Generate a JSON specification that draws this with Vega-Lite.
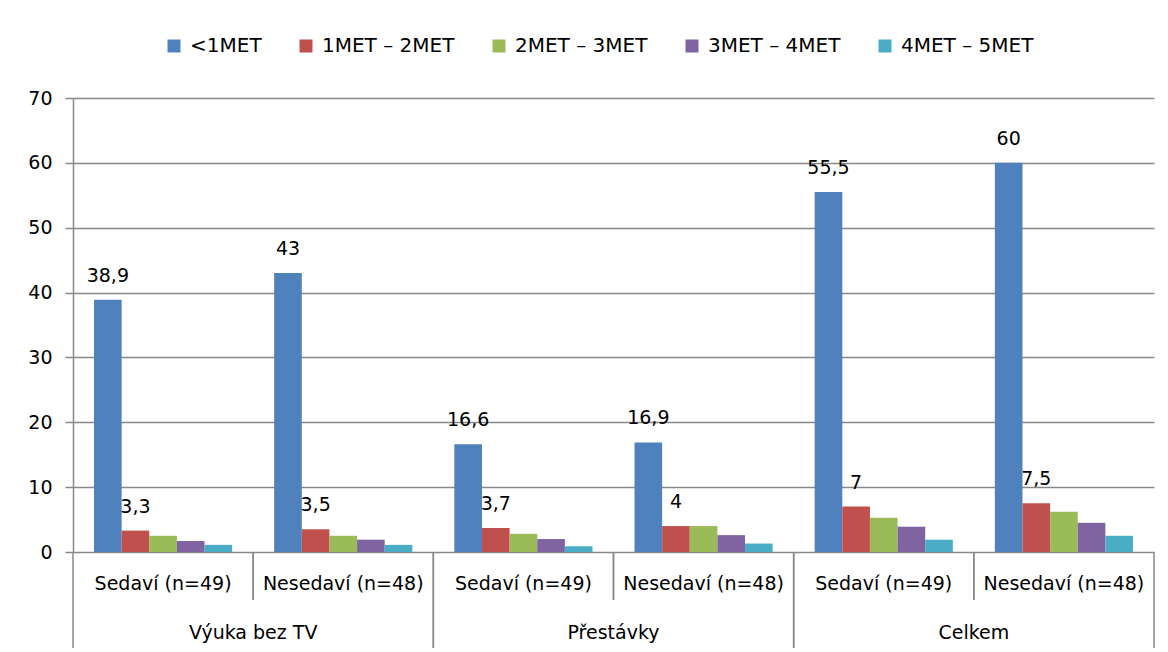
{
  "$schema": "https://vega.github.io/schema/vega-lite/v6.json",
  "background": "white",
  "padding": {"left": 27, "top": 36, "right": 0, "bottom": 0},
  "spacing": 0,
  "bounds": "flush",
  "config": {
    "font": "DejaVu Sans",
    "view": {"stroke": null},
    "locale": {
      "number": {"decimal": ",", "thousands": " ", "grouping": [3], "currency": ["", " Kč"]}
    }
  },
  "datasets": {
    "hodnoty": [
      {"skupina": "Výuka bez TV", "sloupec": "Výuka bez TV: Sedaví (n=49)", "pasmo": "<1MET", "hodnota": 38.9},
      {"skupina": "Výuka bez TV", "sloupec": "Výuka bez TV: Sedaví (n=49)", "pasmo": "1MET – 2MET", "hodnota": 3.3},
      {"skupina": "Výuka bez TV", "sloupec": "Výuka bez TV: Sedaví (n=49)", "pasmo": "2MET – 3MET", "hodnota": 2.5},
      {"skupina": "Výuka bez TV", "sloupec": "Výuka bez TV: Sedaví (n=49)", "pasmo": "3MET – 4MET", "hodnota": 1.7},
      {"skupina": "Výuka bez TV", "sloupec": "Výuka bez TV: Sedaví (n=49)", "pasmo": "4MET – 5MET", "hodnota": 1.1},
      {"skupina": "Výuka bez TV", "sloupec": "Výuka bez TV: Nesedaví (n=48)", "pasmo": "<1MET", "hodnota": 43},
      {"skupina": "Výuka bez TV", "sloupec": "Výuka bez TV: Nesedaví (n=48)", "pasmo": "1MET – 2MET", "hodnota": 3.5},
      {"skupina": "Výuka bez TV", "sloupec": "Výuka bez TV: Nesedaví (n=48)", "pasmo": "2MET – 3MET", "hodnota": 2.5},
      {"skupina": "Výuka bez TV", "sloupec": "Výuka bez TV: Nesedaví (n=48)", "pasmo": "3MET – 4MET", "hodnota": 1.9},
      {"skupina": "Výuka bez TV", "sloupec": "Výuka bez TV: Nesedaví (n=48)", "pasmo": "4MET – 5MET", "hodnota": 1.1},
      {"skupina": "Přestávky", "sloupec": "Přestávky: Sedaví (n=49)", "pasmo": "<1MET", "hodnota": 16.6},
      {"skupina": "Přestávky", "sloupec": "Přestávky: Sedaví (n=49)", "pasmo": "1MET – 2MET", "hodnota": 3.7},
      {"skupina": "Přestávky", "sloupec": "Přestávky: Sedaví (n=49)", "pasmo": "2MET – 3MET", "hodnota": 2.8},
      {"skupina": "Přestávky", "sloupec": "Přestávky: Sedaví (n=49)", "pasmo": "3MET – 4MET", "hodnota": 2.0},
      {"skupina": "Přestávky", "sloupec": "Přestávky: Sedaví (n=49)", "pasmo": "4MET – 5MET", "hodnota": 0.9},
      {"skupina": "Přestávky", "sloupec": "Přestávky: Nesedaví (n=48)", "pasmo": "<1MET", "hodnota": 16.9},
      {"skupina": "Přestávky", "sloupec": "Přestávky: Nesedaví (n=48)", "pasmo": "1MET – 2MET", "hodnota": 4},
      {"skupina": "Přestávky", "sloupec": "Přestávky: Nesedaví (n=48)", "pasmo": "2MET – 3MET", "hodnota": 4.0},
      {"skupina": "Přestávky", "sloupec": "Přestávky: Nesedaví (n=48)", "pasmo": "3MET – 4MET", "hodnota": 2.6},
      {"skupina": "Přestávky", "sloupec": "Přestávky: Nesedaví (n=48)", "pasmo": "4MET – 5MET", "hodnota": 1.3},
      {"skupina": "Celkem", "sloupec": "Celkem: Sedaví (n=49)", "pasmo": "<1MET", "hodnota": 55.5},
      {"skupina": "Celkem", "sloupec": "Celkem: Sedaví (n=49)", "pasmo": "1MET – 2MET", "hodnota": 7},
      {"skupina": "Celkem", "sloupec": "Celkem: Sedaví (n=49)", "pasmo": "2MET – 3MET", "hodnota": 5.3},
      {"skupina": "Celkem", "sloupec": "Celkem: Sedaví (n=49)", "pasmo": "3MET – 4MET", "hodnota": 3.9},
      {"skupina": "Celkem", "sloupec": "Celkem: Sedaví (n=49)", "pasmo": "4MET – 5MET", "hodnota": 1.9},
      {"skupina": "Celkem", "sloupec": "Celkem: Nesedaví (n=48)", "pasmo": "<1MET", "hodnota": 60},
      {"skupina": "Celkem", "sloupec": "Celkem: Nesedaví (n=48)", "pasmo": "1MET – 2MET", "hodnota": 7.5},
      {"skupina": "Celkem", "sloupec": "Celkem: Nesedaví (n=48)", "pasmo": "2MET – 3MET", "hodnota": 6.2},
      {"skupina": "Celkem", "sloupec": "Celkem: Nesedaví (n=48)", "pasmo": "3MET – 4MET", "hodnota": 4.5},
      {"skupina": "Celkem", "sloupec": "Celkem: Nesedaví (n=48)", "pasmo": "4MET – 5MET", "hodnota": 2.5}
    ],
    "kategorie": [
      {"sloupec": "Výuka bez TV: Sedaví (n=49)", "popisek": "Sedaví (n=49)"},
      {"sloupec": "Výuka bez TV: Nesedaví (n=48)", "popisek": "Nesedaví (n=48)"},
      {"sloupec": "Přestávky: Sedaví (n=49)", "popisek": "Sedaví (n=49)"},
      {"sloupec": "Přestávky: Nesedaví (n=48)", "popisek": "Nesedaví (n=48)"},
      {"sloupec": "Celkem: Sedaví (n=49)", "popisek": "Sedaví (n=49)"},
      {"sloupec": "Celkem: Nesedaví (n=48)", "popisek": "Nesedaví (n=48)"}
    ],
    "skupiny": [
      {"skupina": "Výuka bez TV"},
      {"skupina": "Přestávky"},
      {"skupina": "Celkem"}
    ]
  },
  "resolve": {"scale": {"x": "independent"}},
  "vconcat": [
    {
      "width": 1081,
      "height": 454,
      "data": {"name": "hodnoty"},
      "encoding": {
        "x": {
          "field": "sloupec",
          "type": "nominal",
          "sort": null,
          "scale": {"paddingInner": 0, "paddingOuter": 0},
          "axis": null
        },
        "xOffset": {
          "field": "pasmo",
          "type": "nominal",
          "scale": {
            "domain": ["<1MET", "1MET – 2MET", "2MET – 3MET", "3MET – 4MET", "4MET – 5MET"],
            "paddingInner": 0,
            "paddingOuter": 0.76
          }
        },
        "y": {
          "field": "hodnota",
          "type": "quantitative",
          "scale": {"domain": [0, 70], "nice": false},
          "axis": {
            "title": null,
            "values": [0, 10, 20, 30, 40, 50, 60, 70],
            "grid": true,
            "gridColor": "#888888",
            "gridWidth": 1.5,
            "domainColor": "#888888",
            "domainWidth": 1.5,
            "tickColor": "#888888",
            "tickWidth": 1.5,
            "tickSize": 8,
            "labelFontSize": 19,
            "labelColor": "#000000",
            "labelPadding": 13
          }
        }
      },
      "layer": [
        {
          "mark": {"type": "bar"},
          "encoding": {
            "color": {
              "field": "pasmo",
              "type": "nominal",
              "scale": {
                "domain": ["<1MET", "1MET – 2MET", "2MET – 3MET", "3MET – 4MET", "4MET – 5MET"],
                "range": ["#4F81BD", "#C0504D", "#9BBB59", "#8064A2", "#4BACC6"]
              },
              "legend": {
                "title": null,
                "orient": "none",
                "legendX": 91,
                "legendY": -62,
                "direction": "horizontal",
                "symbolType": "square",
                "symbolSize": 169,
                "symbolStrokeWidth": 0,
                "symbolOpacity": 1,
                "labelFontSize": 20,
                "labelColor": "#000000",
                "labelOffset": 6,
                "columnPadding": 34,
                "labelLimit": 300
              }
            }
          }
        },
        {
          "transform": [{"filter": {"field": "pasmo", "oneOf": ["<1MET", "1MET – 2MET"]}}],
          "mark": {"type": "text", "baseline": "alphabetic", "dy": -18, "fontSize": 19, "color": "#000000"},
          "encoding": {
            "text": {"field": "hodnota", "type": "quantitative", "format": ".1~f"}
          }
        }
      ]
    },
    {
      "width": 1081,
      "height": 48,
      "data": {"name": "kategorie"},
      "layer": [
        {
          "mark": {"type": "rule", "color": "#888888", "strokeWidth": 1.5},
          "encoding": {
            "x": {"field": "sloupec", "type": "nominal", "sort": null, "bandPosition": 0, "scale": {"paddingInner": 0, "paddingOuter": 0}, "axis": null}
          }
        },
        {
          "mark": {"type": "rule", "color": "#888888", "strokeWidth": 1.5},
          "encoding": {
            "x": {"field": "sloupec", "type": "nominal", "sort": null, "bandPosition": 1, "scale": {"paddingInner": 0, "paddingOuter": 0}, "axis": null}
          }
        },
        {
          "mark": {"type": "text", "fontSize": 19, "dy": 8, "color": "#000000"},
          "encoding": {
            "x": {"field": "sloupec", "type": "nominal", "sort": null, "scale": {"paddingInner": 0, "paddingOuter": 0}, "axis": null},
            "text": {"field": "popisek", "type": "nominal"}
          }
        }
      ]
    },
    {
      "width": 1081,
      "height": 48,
      "data": {"name": "skupiny"},
      "layer": [
        {
          "mark": {"type": "rule", "color": "#888888", "strokeWidth": 1.5},
          "encoding": {
            "x": {"field": "skupina", "type": "nominal", "sort": null, "bandPosition": 0, "scale": {"paddingInner": 0, "paddingOuter": 0}, "axis": null}
          }
        },
        {
          "mark": {"type": "rule", "color": "#888888", "strokeWidth": 1.5},
          "encoding": {
            "x": {"field": "skupina", "type": "nominal", "sort": null, "bandPosition": 1, "scale": {"paddingInner": 0, "paddingOuter": 0}, "axis": null}
          }
        },
        {
          "mark": {"type": "text", "fontSize": 19, "dy": 9, "color": "#000000"},
          "encoding": {
            "x": {"field": "skupina", "type": "nominal", "sort": null, "scale": {"paddingInner": 0, "paddingOuter": 0}, "axis": null},
            "text": {"field": "skupina", "type": "nominal"}
          }
        }
      ]
    }
  ]
}
